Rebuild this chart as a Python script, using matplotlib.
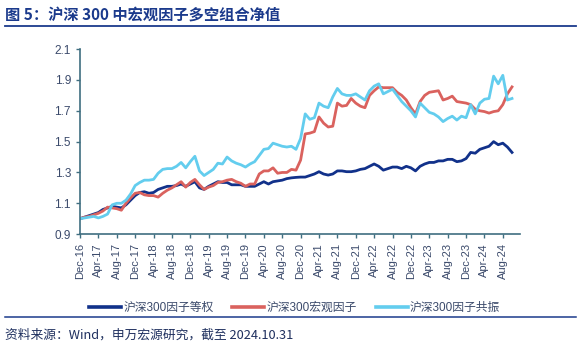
import numpy as np
import matplotlib
matplotlib.use("Agg")
import matplotlib.pyplot as plt

plt.rcParams['font.family'] = ['Liberation Sans', 'Noto Sans CJK SC', 'DejaVu Sans']

# monthly, Dec-16 .. Oct-24
months = ["Dec-16", "Apr-17", "Aug-17", "Dec-17", "Apr-18", "Aug-18", "Dec-18", "Apr-19",
          "Aug-19", "Dec-19", "Apr-20", "Aug-20", "Dec-20", "Apr-21", "Aug-21", "Dec-21",
          "Apr-22", "Aug-22", "Dec-22", "Apr-23", "Aug-23", "Dec-23", "Apr-24", "Aug-24"]

equal_w = [1.00, 1.01, 1.02, 1.03, 1.04, 1.06, 1.07, 1.08, 1.075, 1.07,
           1.09, 1.12, 1.15, 1.17, 1.175, 1.165, 1.17, 1.19, 1.20, 1.21,
           1.21, 1.215, 1.225, 1.21, 1.225, 1.24, 1.20, 1.19, 1.21, 1.225,
           1.24, 1.235, 1.235, 1.22, 1.22, 1.22, 1.21, 1.21, 1.21, 1.225,
           1.24, 1.225, 1.24, 1.245, 1.25, 1.26, 1.265, 1.268, 1.27, 1.27,
           1.28, 1.29, 1.305, 1.29, 1.283, 1.29, 1.31, 1.31, 1.305, 1.305,
           1.31, 1.32, 1.325, 1.34, 1.355, 1.34, 1.315, 1.325, 1.335, 1.335,
           1.325, 1.34, 1.33, 1.31, 1.34, 1.355, 1.365, 1.365, 1.375, 1.375,
           1.385, 1.385, 1.37, 1.375, 1.39, 1.43, 1.425, 1.45, 1.46, 1.47,
           1.50, 1.48, 1.49, 1.465, 1.43]

macro = [1.00, 1.01, 1.015, 1.025, 1.035, 1.05, 1.075, 1.07, 1.065, 1.055,
         1.10, 1.135, 1.165, 1.17, 1.155, 1.15, 1.15, 1.14, 1.165, 1.185,
         1.20, 1.22, 1.24, 1.205, 1.235, 1.255, 1.22, 1.19, 1.205, 1.215,
         1.235, 1.24, 1.25, 1.255, 1.24, 1.23, 1.21, 1.225, 1.225, 1.29,
         1.31, 1.31, 1.33, 1.295, 1.30, 1.30, 1.32, 1.315, 1.38, 1.55,
         1.555, 1.565, 1.66, 1.62, 1.595, 1.60, 1.75, 1.73, 1.735, 1.78,
         1.75, 1.73, 1.72, 1.80, 1.83, 1.855, 1.85, 1.85, 1.85, 1.82,
         1.80, 1.77, 1.72, 1.68, 1.76, 1.80, 1.82, 1.825, 1.83, 1.77,
         1.78, 1.795, 1.76, 1.755, 1.75, 1.74, 1.71, 1.70, 1.695, 1.685,
         1.695, 1.70, 1.74, 1.81, 1.855]

resonance = [1.00, 1.005, 1.01, 1.015, 1.005, 1.015, 1.03, 1.09, 1.10, 1.10,
             1.12, 1.16, 1.215, 1.235, 1.25, 1.25, 1.255, 1.295, 1.32, 1.325,
             1.325, 1.34, 1.365, 1.33, 1.37, 1.405, 1.31, 1.28, 1.30, 1.32,
             1.36, 1.355, 1.40, 1.375, 1.36, 1.35, 1.335, 1.355, 1.37, 1.41,
             1.45, 1.455, 1.49, 1.48, 1.47, 1.465, 1.47, 1.45, 1.52, 1.68,
             1.645, 1.655, 1.75, 1.73, 1.72, 1.79, 1.845, 1.81, 1.80, 1.80,
             1.81, 1.79, 1.77, 1.83, 1.86, 1.875, 1.81, 1.825, 1.84, 1.80,
             1.76, 1.73, 1.70, 1.66, 1.75, 1.72, 1.69, 1.68, 1.66, 1.63,
             1.65, 1.665, 1.64, 1.665, 1.655, 1.74, 1.68, 1.75, 1.775, 1.78,
             1.925, 1.875, 1.93, 1.77, 1.78]

navy = '#11318a'
red = '#da625e'
cyan = '#63cdee'
axis_col = '#3f6e80'
txt_col = '#3b4a6b'

fig = plt.figure(figsize=(5.81, 3.51), dpi=100)
ax = fig.add_axes([0.1377, 0.333, 0.757, 0.527])

x = np.arange(len(equal_w))
ax.plot(x, equal_w, color=navy, lw=2.0, label='沪深300因子等权')
ax.plot(x, macro, color=red, lw=2.0, label='沪深300宏观因子')
ax.plot(x, resonance, color=cyan, lw=2.0, label='沪深300因子共振')

ax.set_xlim(0, 95.7)
ax.set_ylim(0.9, 2.1)
ax.set_yticks(np.arange(0.9, 2.11, 0.2))
ax.set_yticklabels(['%.1f' % v for v in np.arange(0.9, 2.11, 0.2)])
ax.set_xticks(np.arange(0, len(months) * 4, 4))
ax.set_xticklabels(months, rotation=90)
ax.tick_params(axis='both', colors=axis_col, labelcolor=txt_col, labelsize=8, length=3, width=1)
ax.tick_params(axis='y', labelsize=8.5)
for s in ['top', 'right']:
    ax.spines[s].set_visible(False)
for s in ['left', 'bottom']:
    ax.spines[s].set_color(axis_col)
    ax.spines[s].set_linewidth(1.2)

leg = fig.legend(loc='center', bbox_to_anchor=(0.507, 0.122), ncol=3, frameon=False,
                 fontsize=8.5, handlelength=2.7, columnspacing=1.6, handletextpad=0.2)
for t in leg.get_texts():
    t.set_color(txt_col)
for h in leg.get_lines():
    h.set_linewidth(2.6)

fig.text(0.009, 0.958, '图 5：沪深 300 中宏观因子多空组合净值', fontsize=11, fontweight='bold',
         color='#1b3a8c', family=['Noto Sans CJK SC'], va='center')
fig.add_artist(plt.Line2D([0.009, 0.991], [0.925, 0.925], color='#1b3a8c', lw=1.3))
fig.add_artist(plt.Line2D([0.009, 0.991], [0.098, 0.098], color='#1b3a8c', lw=1.1))
fig.text(0.009, 0.045, '资料来源：Wind，申万宏源研究，截至 2024.10.31', fontsize=9.2,
         color='#1e2f5e', family=['Noto Sans CJK SC'], va='center')

fig.savefig('out.png', dpi=100)
